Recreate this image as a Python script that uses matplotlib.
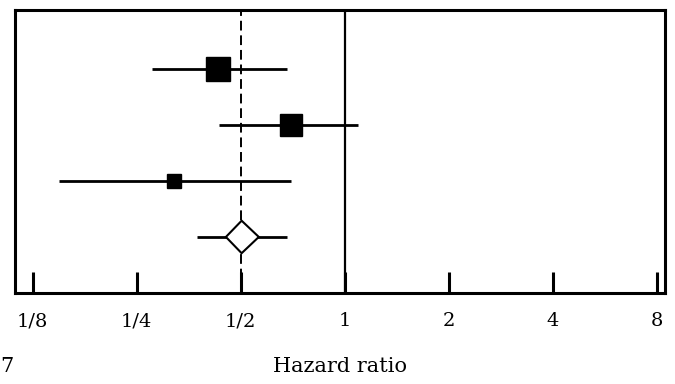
import numpy as np
import matplotlib
matplotlib.use("Agg")
import matplotlib.pyplot as plt

# study rows (top to bottom)
hr_est = [0.43, 0.70, 0.32]
hr_lo = [0.276, 0.432, 0.149]
hr_hi = [0.679, 1.09, 0.70]
box_size = [17, 16, 10]  # marker size (pt) ~ study weight

# pooled estimate
pooled_est = 0.503
pooled_lo = 0.373
pooled_hi = 0.679
pooled_box_lo = 0.453
pooled_box_hi = 0.564

tick_vals = [1/8, 1/4, 1/2, 1, 2, 4, 8]
tick_labels = ["1/8", "1/4", "1/2", "1", "2", "4", "8"]

plt.rcParams['font.family'] = ['DejaVu Serif']

fig = plt.figure(figsize=(6.75, 3.84), dpi=100)
ax = fig.add_axes([0.022, 0.237, 0.963, 0.737])

ys = [4, 3, 2]
for y, est, lo, hi, s in zip(ys, hr_est, hr_lo, hr_hi, box_size):
    ax.plot([lo, hi], [y, y], color='black', lw=2.0, solid_capstyle='butt', zorder=3)
    ax.plot([est], [y], marker='s', ms=s, color='black', zorder=4)

# pooled diamond
yp = 1
ax.plot([pooled_lo, pooled_hi], [yp, yp], color='black', lw=2.0, solid_capstyle='butt', zorder=3)
dx = [pooled_box_lo, pooled_est, pooled_box_hi, pooled_est, pooled_box_lo]
dy = [yp, yp + 0.29, yp, yp - 0.29, yp]
ax.fill(dx, dy, facecolor='white', edgecolor='black', lw=1.5, zorder=4)

# reference lines
ax.axvline(1, color='black', lw=1.6, zorder=2)
ax.axvline(0.5, color='black', lw=1.4, ls=(0, (5, 2.5)), zorder=2)

ax.set_xscale('log', base=2)
ax.set_xlim(0.111, 8.44)
ax.set_ylim(0, 5.05)
ax.set_yticks([])
ax.set_xticks(tick_vals)
ax.set_xticklabels(tick_labels)
ax.minorticks_off()
ax.tick_params(axis='x', direction='in', length=15, width=2.2, labelsize=14, pad=14)
for sp in ax.spines.values():
    sp.set_linewidth(2.2)

ax.set_xlabel("Hazard ratio", fontsize=15, labelpad=19)
fig.text(0.0, 0.03, "7", fontsize=15, ha='left', va='baseline')

fig.savefig("out.png", dpi=100)
